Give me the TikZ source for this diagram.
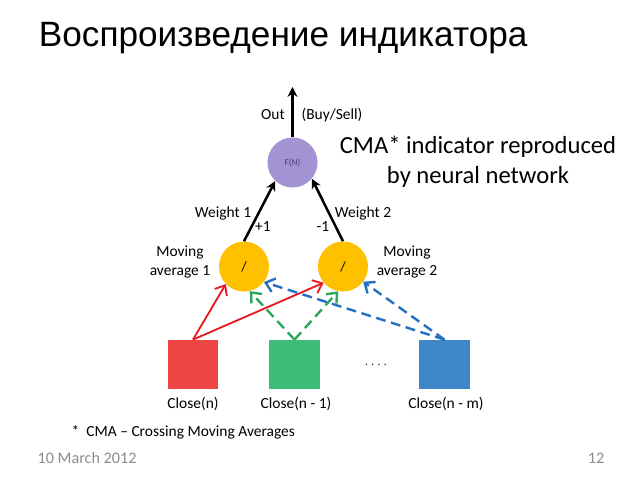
\documentclass[tikz,border=0pt]{standalone}
\usepackage{fontspec}
\setmainfont{Carlito}
\newfontfamily\titlefont{Liberation Sans}
\usetikzlibrary{arrows.meta}
\definecolor{fnpurple}{HTML}{A493D2}
\definecolor{fntext}{HTML}{4E3D7E}
\definecolor{mayellow}{HTML}{FFC000}
\definecolor{boxred}{HTML}{EE4444}
\definecolor{boxgreen}{HTML}{3EBB77}
\definecolor{boxblue}{HTML}{3F87C8}
\definecolor{arrred}{HTML}{E8181E}
\definecolor{arrgreen}{HTML}{2CA659}
\definecolor{arrblue}{HTML}{2370C1}
\definecolor{footgray}{HTML}{8C8C8C}
\tikzset{
  neuron/.style={circle,minimum size=1.25cm,inner sep=0pt},
  inbox/.style={rectangle,minimum width=1.25cm,minimum height=1.23cm,inner sep=0pt},
  lbl/.style={font=\fontsize{11}{13}\selectfont,align=center,inner sep=1pt},
  wire/.style={line width=1.8pt,-{Stealth[length=7pt,width=7pt]}},
  feed/.style={line width=1.3pt,-{Straight Barb[length=6pt,width=10pt]}},
  dfeed/.style={feed,line width=1.7pt,dash pattern=on 7pt off 4pt}
}
\begin{document}
\begin{tikzpicture}[x=0.025cm,y=-0.025cm]
  \useasboundingbox (0,0) rectangle (640,480);
  \node[anchor=west,font=\titlefont\fontsize{25}{28}\selectfont] (title) at (34,38) {Воспроизведение индикатора};
  \draw
    (292.5,162.5) node[neuron,fill=fnpurple,text=fntext,font=\fontsize{6.5}{7}\selectfont] (fn){F(N)}
    (244,266.5) node[neuron,fill=mayellow] (ma1){/}
    (343,266.5) node[neuron,fill=mayellow] (ma2){/}
    (193,364.5) node[inbox,fill=boxred] (c0){}
    (294.5,364.5) node[inbox,fill=boxgreen] (c1){}
    (444.5,364.5) node[inbox,fill=boxblue] (cm){};
  \coordinate (out) at (292.5,87);
  \node[lbl] (outl) at (273,115) {Out};
  \node[lbl] (sig) at (332,115) {(Buy/Sell)};
  \node[lbl] (w1) at (223,213) {Weight 1};
  \node[lbl] (w2) at (363,213) {Weight 2};
  \node[lbl] (p1) at (263,227) {+1};
  \node[lbl] (m1) at (323,227) {-1};
  \node[lbl] (ma1l) at (180,262) {Moving\\average 1};
  \node[lbl] (ma2l) at (407,262) {Moving\\average 2};
  \node[lbl] (c0l) at (193,404) {Close(n)};
  \node[lbl] (c1l) at (296,404) {Close(n - 1)};
  \node[lbl] (cml) at (446,404) {Close(n - m)};
  \node[lbl,font=\fontsize{8}{9}\selectfont] (dots) at (376,365) {. . . .};
  \node[align=center,font=\fontsize{17.5}{21}\selectfont] (cma) at (478,162) {CMA* indicator reproduced\\by neural network};
  \node[lbl,anchor=west] (note) at (70,432) {*\ \ CMA – Crossing Moving Averages};
  \node[lbl,anchor=west,text=footgray,font=\fontsize{11.5}{13}\selectfont] (date) at (36,458) {10 March 2012};
  \node[lbl,text=footgray,font=\fontsize{11.5}{13}\selectfont] (page) at (596,458) {12};
  \begin{scope}
    \draw[wire] (fn) to (out);
    \draw[wire] (ma1.north) to (fn.-133);
    \draw[wire] (ma2.north) to (fn.-40);
    \draw[feed,arrred] (c0.north) to (ma1.-136);
    \draw[feed,arrred] (c0.north) to (ma2.-140);
    \draw[dfeed,arrgreen] (c1.north) to (ma1.-77);
    \draw[dfeed,arrgreen] (c1.north) to (ma2.-101);
    \draw[dfeed,arrblue] (cm.north) to (ma1.-38);
    \draw[dfeed,arrblue] (cm.north) to (ma2.-37);
  \end{scope}
\end{tikzpicture}
\end{document}
